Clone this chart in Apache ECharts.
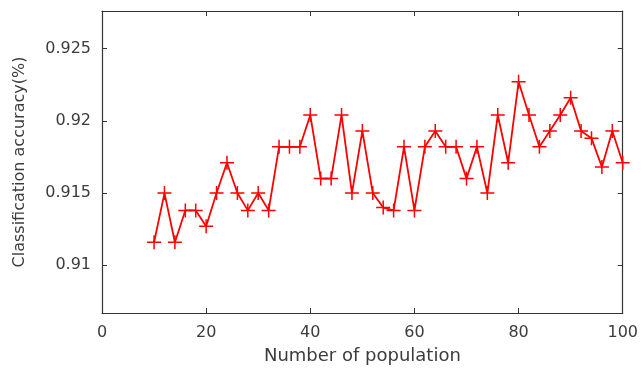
<!DOCTYPE html>
<html>
<head>
<meta charset="utf-8">
<script src="https://cdn.jsdelivr.net/npm/echarts@6/dist/echarts.min.js"></script>
<style>html,body{margin:0;padding:0;background:#fff;}#chart{width:641px;height:371px;}</style>
</head>
<body>
<div id="chart"></div>
<script>
const populations = [10,12,14,16,18,20,22,24,26,28,30,32,34,36,38,40,42,44,46,48,50,52,54,56,58,60,62,64,66,68,70,72,74,76,78,80,82,84,86,88,90,92,94,96,98,100];
const accuracy = [0.9116,0.9150,0.9116,0.9138,0.9138,0.9127,0.9150,0.9171,0.9150,0.9138,0.9150,0.9138,0.9182,0.9182,0.9182,0.9204,0.9160,0.9160,0.9204,0.9150,0.9193,0.9150,0.9140,0.9138,0.9182,0.9138,0.9182,0.9193,0.9182,0.9182,0.9160,0.9182,0.9150,0.9204,0.9171,0.9227,0.9204,0.9182,0.9193,0.9204,0.9216,0.9193,0.9188,0.9168,0.9193,0.9171];
const yTicks = [0.91, 0.915, 0.92, 0.925];
const xTicks = [0, 20, 40, 60, 80, 100];
const xName = 'Number of population';
const yName = 'Classification accuracy(%)';

const chart = echarts.init(document.getElementById('chart'), null, {renderer: 'canvas'});
const axisColor = '#333333';
const textColor = '#3c3c3c';
const font = 'DejaVu Sans';
const plus = 'path://M-7,-0.75L7,-0.75L7,0.75L-7,0.75Z M-0.75,-7L0.75,-7L0.75,7L-0.75,7Z';
chart.setOption({
  animation: false,
  grid: {left: 102, right: 16, top: 11, bottom: 58, containLabel: false},
  xAxis: [{
    type: 'value', min: 0, max: 100, interval: 20,
    name: xName, nameLocation: 'middle', nameGap: 34,
    nameTextStyle: {fontFamily: font, fontSize: 18, color: textColor},
    axisLine: {show: true, onZero: false, lineStyle: {color: axisColor, width: 1.2}},
    axisTick: {show: true, inside: true, length: 5, lineStyle: {color: axisColor}},
    axisLabel: {fontFamily: font, fontSize: 16, color: textColor, margin: 12},
    splitLine: {show: false}
  }, {
    type: 'value', min: 0, max: 100, interval: 20, position: 'top',
    axisLine: {show: true, onZero: false, lineStyle: {color: axisColor, width: 1.2}},
    axisTick: {show: true, inside: true, length: 5, lineStyle: {color: axisColor}},
    axisLabel: {show: false}, splitLine: {show: false}
  }],
  yAxis: [{
    type: 'value', min: 0.9067, max: 0.9276,
    name: yName, nameLocation: 'middle', nameGap: 74, nameRotate: 90,
    nameTextStyle: {fontFamily: font, fontSize: 16, color: textColor},
    axisLine: {show: true, onZero: false, lineStyle: {color: axisColor, width: 1.2}},
    axisTick: {show: true, inside: true, length: 5, customValues: yTicks, lineStyle: {color: axisColor}},
    axisLabel: {fontFamily: font, fontSize: 16, color: textColor, margin: 11, customValues: yTicks,
      formatter: v => String(+v.toFixed(3))},
    splitLine: {show: false}
  }, {
    type: 'value', min: 0.9067, max: 0.9276, position: 'right',
    axisLine: {show: true, onZero: false, lineStyle: {color: axisColor, width: 1.2}},
    axisTick: {show: true, inside: true, length: 5, customValues: yTicks, lineStyle: {color: axisColor}},
    axisLabel: {show: false}, splitLine: {show: false}
  }],
  series: [{
    type: 'line',
    xAxisIndex: 0, yAxisIndex: 0,
    data: populations.map((p, i) => [p, accuracy[i]]),
    symbol: plus, symbolSize: 14, showAllSymbol: true,
    lineStyle: {color: '#ff0000', width: 1.8},
    itemStyle: {color: '#ff0000'}
  }]
});
</script>
</body>
</html>
